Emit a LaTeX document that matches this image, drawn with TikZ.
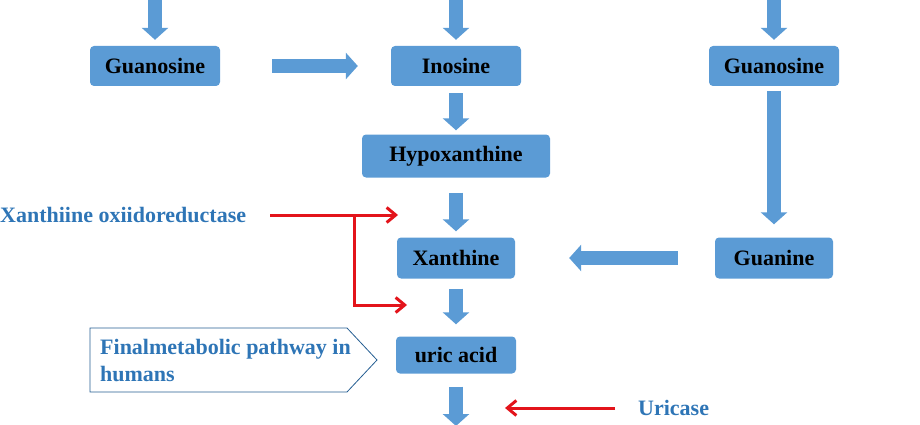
\documentclass[tikz,border=0pt]{standalone}
\usepackage{fontspec}
\setmainfont{Liberation Serif}
\usetikzlibrary{arrows.meta}
\definecolor{boxblue}{HTML}{5B9BD5}
\definecolor{textblue}{HTML}{2E75B6}
\definecolor{enzred}{HTML}{E3141B}

\begin{document}
\begin{tikzpicture}[x=1pt, y=-1pt,
    mol/.style={fill=boxblue, rounded corners=4pt, minimum height=40pt, inner sep=0pt,
        font=\fontsize{22}{26}\selectfont\bfseries},
    fat/.style={boxblue, line width=14pt, -{Triangle[width=26pt,length=12pt]}},
    enz/.style={enzred, line width=3pt, -{Straight Barb[width=15pt,length=9pt]}},
    lbl/.style={textblue, inner sep=0pt, font=\fontsize{22}{27}\selectfont\bfseries}]
    \useasboundingbox (0,0) rectangle (920,425);

    % molecules
    \node (gsl) [mol, minimum width=130pt] at (155,66) {Guanosine};
    \node (ino) [mol, minimum width=130pt] at (456,66) {Inosine};
    \node (gsr) [mol, minimum width=130pt] at (774,66) {Guanosine};
    \node (hyp) [mol, minimum width=188pt, minimum height=43pt] at (456,156) {Hypoxanthine};
    \node (xan) [mol, minimum width=118pt, minimum height=41pt] at (456,258) {Xanthine};
    \node (gua) [mol, minimum width=118pt, minimum height=41pt] at (774,258) {Guanine};
    \node (uric) [mol, minimum width=120pt, minimum height=37pt] at (456,355) {uric acid};

    % enzymes and note
    \node (xo) [lbl, anchor=west] at (0,215) {Xanthiine oxiidoreductase};
    \node (uc) [lbl, anchor=west] at (638,408) {Uricase};
    \draw [textblue!80!black, fill=white, line width=0.8pt]
        (90,328) -- (347,328) -- (377,360) -- (347,392) -- (90,392) -- cycle;
    \node (fp) [lbl, anchor=west, align=left] at (100,360) {Finalmetabolic pathway in\\humans};

    % free ends
    \coordinate (t1) at (155,0);
    \coordinate (t2) at (456,0);
    \coordinate (t3) at (774,0);
    \coordinate (bt) at (456,426);
    \coordinate (xsplit) at (354,215);
    \coordinate (xa) at (398,215);
    \coordinate (xb) at (407,305);
    \coordinate (ua) at (505,408);

    % pathway arrows
    \draw [fat, shorten >=6pt] (t1) -- (gsl);
    \draw [fat, shorten >=6pt] (t2) -- (ino);
    \draw [fat, shorten >=6pt] (t3) -- (gsr);
    \draw [fat, shorten <=52pt, shorten >=33pt] (gsl) -- (ino);
    \draw [fat, shorten <=7pt, shorten >=4pt] (ino) -- (hyp);
    \draw [fat, shorten <=15pt, shorten >=6pt] (hyp) -- (xan);
    \draw [fat, shorten <=5pt, shorten >=13pt] (gsr) -- (gua);
    \draw [fat, shorten <=37pt, shorten >=54pt] (gua) -- (xan);
    \draw [fat, shorten <=10pt, shorten >=12pt] (xan) -- (uric);
    \draw [fat, shorten <=13pt] (uric) -- (bt);

    % enzyme arrows
    \draw [enz, shorten <=24pt] (xo.east) -- (xa);
    \draw [enz] (xsplit) |- (xb);
    \draw [enz, shorten <=23pt] (uc.west) -- (ua);
\end{tikzpicture}
\end{document}
